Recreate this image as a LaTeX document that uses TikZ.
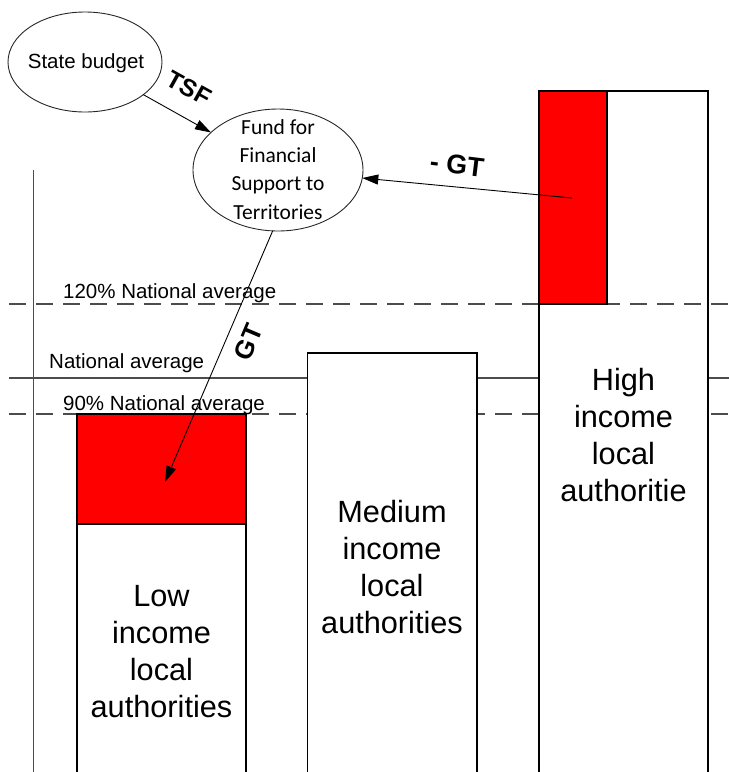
\documentclass[tikz,border=0pt]{standalone}
\usepackage{fontspec}
\setmainfont{Liberation Sans}
\newfontfamily\calib{Carlito}
\usetikzlibrary{arrows.meta,shapes.geometric}
\begin{document}
\begin{tikzpicture}[x=1pt,y=-1pt,
  refline/.style={draw=black!70,line width=1.1pt},
  dashref/.style={refline,dash pattern=on 17pt off 10pt},
  barbox/.style={draw=black,line width=1.3pt},
  arr/.style={draw=black,line width=0.9pt,-{Triangle[length=16pt,width=10pt]}},
  oval/.style={draw=black!85,line width=0.9pt,ellipse,inner sep=0pt,outer sep=0pt},
  reflabel/.style={anchor=base west,inner sep=0pt,font=\fontsize{20.5}{24}\selectfont},
  bartext/.style={anchor=north,inner sep=0pt,align=center,font=\fontsize{30.7}{37}\selectfont},
  flowlabel/.style={inner sep=0pt,font=\bfseries\fontsize{#1}{#1}\selectfont}
]
\useasboundingbox (0,0) rectangle (729,772);
\begin{scope}
\clip (0,0) rectangle (729,772);
% reference lines under the bars
\draw[refline] (9,378) -- (729,378);
\draw[dashref] (9,414) -- (729,414);
% axis
\draw[refline] (33.5,170) -- (33.5,790);
% low bar
\fill[white] (77,414) rectangle (246,790);
\draw[barbox] (77,414) rectangle (246,790);
\draw[barbox,fill=red] (77,414) rectangle (246,524);
% medium bar
\draw[barbox,fill=white] (307.5,353) rectangle (477,790);
% high bar
\fill[white] (539,304) rectangle (708,790);
\draw[dashref] (9,304) -- (729,304);
\draw[barbox] (539,91) rectangle (708,790);
\draw[barbox,fill=red] (539,91) rectangle (607,304);
\end{scope}

% labels of reference lines
\node[reflabel] (l120) at (63,298) {120\% National average};
\node[reflabel] (lna) at (49,368) {National average};
\node[reflabel] (l90) at (63,410) {90\% National average};

% bar texts
\node[bartext] (tlow) at (161.5,585) {Low\\income\\local\\authorities};
\node[bartext] (tmed) at (392,500) {Medium\\income\\local\\authorities};
\node[bartext] (thigh) at (623.5,368) {High\\income\\local\\authoritie};

% ellipses
\node[oval,minimum width=154pt,minimum height=100pt] (sb) at (85,62) {};
\node[anchor=base,inner sep=0pt,font=\fontsize{20.5}{24}\selectfont] (sbtext) at (86,68) {State budget};
\node[oval,minimum width=170pt,minimum height=122pt] (fund) at (278,170) {};
\node[anchor=north,inner sep=0pt,align=center,font=\calib\fontsize{21.5}{28.3}\selectfont] (fundtext) at (278,119) {Fund for\\Financial\\Support to\\Territories};

% connectors
\coordinate (hsrc) at (572,198);
\coordinate (gtend) at (165,482);
\draw[arr] (sb) -- (fund);
\draw[arr] (hsrc) -- (fund);
\draw[arr] (fund.265) -- (gtend);

% flow labels
\node[flowlabel=24.5,rotate=-29] (tsf) at (189,88) {TSF};
\node[flowlabel=27,rotate=-7] (mgt) at (457,165) {- GT};
\node[flowlabel=26,rotate=67] (gt) at (248,342) {GT};
\end{tikzpicture}
\end{document}
